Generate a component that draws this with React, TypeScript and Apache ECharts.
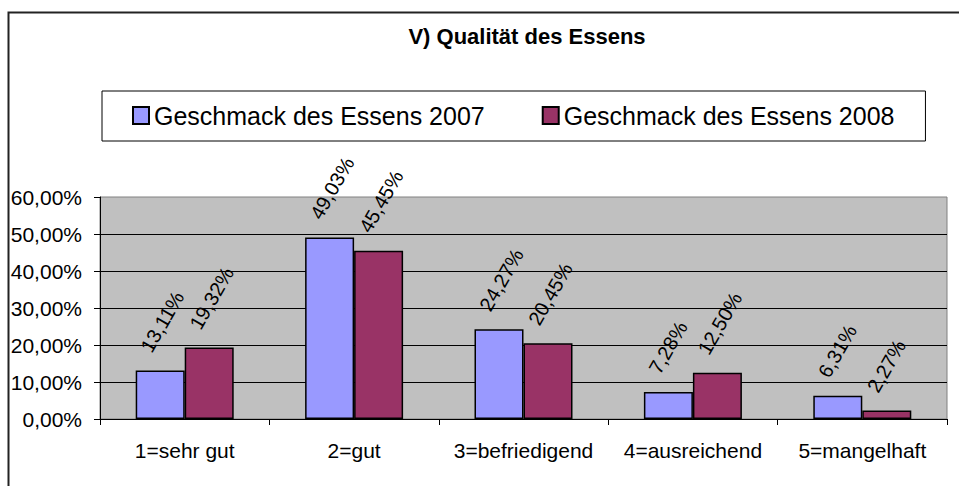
import React, { useEffect, useRef } from "react";
import * as echarts from "echarts";

const categories = ["1=sehr gut", "2=gut", "3=befriedigend", "4=ausreichend", "5=mangelhaft"];
const seriesNames = ["Geschmack des Essens 2007", "Geschmack des Essens 2008"];
const values2007 = [13.11, 49.03, 24.27, 7.28, 6.31];
const values2008 = [19.32, 45.45, 20.45, 12.5, 2.27];
const titleText = "V) Qualität des Essens";

const FONT = "'Liberation Sans', Arial, sans-serif";
const fmt = (v: number) => v.toFixed(2).replace(".", ",") + "%";

export default function App() {
  const ref = useRef<HTMLDivElement>(null);
  useEffect(() => {
    if (!ref.current) return;
    const chart = echarts.init(ref.current, null, { renderer: "svg" });
    const labelOpt = {
      show: true,
      position: [10, -20],
      rotate: 60,
      align: "left",
      verticalAlign: "middle",
      fontFamily: FONT,
      fontSize: 20,
      color: "#000",
      formatter: (p: any) => fmt(p.value),
    };
    chart.setOption({
      animation: false,
      backgroundColor: "#fff",
      textStyle: { fontFamily: FONT },
      title: {
        text: titleText,
        left: 522,
        textAlign: "center",
        top: 20,
        textStyle: { fontFamily: FONT, fontSize: 22, fontWeight: "bold", color: "#000" },
      },
      legend: {
        left: 102,
        top: 91,
        icon: "rect",
        itemWidth: 16,
        itemHeight: 17,
        itemGap: 57,
        padding: [12, 31, 13, 30],
        backgroundColor: "#fff",
        borderColor: "#000",
        borderWidth: 1,
        borderRadius: 0,
        textStyle: { fontFamily: FONT, fontSize: 25, color: "#000" },
        data: seriesNames,
      },
      grid: {
        left: 100,
        right: 12,
        top: 197,
        bottom: 67,
        show: true,
        backgroundColor: "#C0C0C0",
        borderColor: "#808080",
        borderWidth: 1,
      },
      xAxis: {
        type: "category",
        data: categories,
        axisLine: { lineStyle: { color: "#000", width: 1 } },
        axisTick: { show: true, length: 6, lineStyle: { color: "#000" } },
        axisLabel: { fontFamily: FONT, fontSize: 21, color: "#000", margin: 21, interval: 0 },
      },
      yAxis: {
        type: "value",
        min: 0,
        max: 60,
        interval: 10,
        axisLine: { show: true, lineStyle: { color: "#000", width: 1 } },
        axisTick: { show: true, length: 6, lineStyle: { color: "#000" } },
        axisLabel: { fontFamily: FONT, fontSize: 21, color: "#000", margin: 18, formatter: (v: number) => fmt(v) },
        splitLine: { show: true, showMaxLine: false, lineStyle: { color: "#000", width: 1 } },
      },
      graphic: [
        {
          type: "rect",
          left: 6,
          top: 10,
          shape: { x: 0, y: 0, width: 1000, height: 1000 },
          style: { fill: "none", stroke: "#222", lineWidth: 2 },
          silent: true,
          z: 100,
        },
      ],
      series: [
        {
          name: seriesNames[0],
          type: "bar",
          data: values2007,
          barWidth: 49,
          barGap: "0%",
          itemStyle: { color: "#9999FF", borderColor: "#000", borderWidth: 1.5 },
          label: labelOpt,
        },
        {
          name: seriesNames[1],
          type: "bar",
          data: values2008,
          barWidth: 49,
          barGap: "0%",
          itemStyle: { color: "#993366", borderColor: "#000", borderWidth: 1.5 },
          label: labelOpt,
        },
      ],
    });
    return () => chart.dispose();
  }, []);
  return (
    <div
      ref={ref}
      style={{ position: "fixed", left: 0, top: 0, width: 959, height: 486 }}
    />
  );
}
